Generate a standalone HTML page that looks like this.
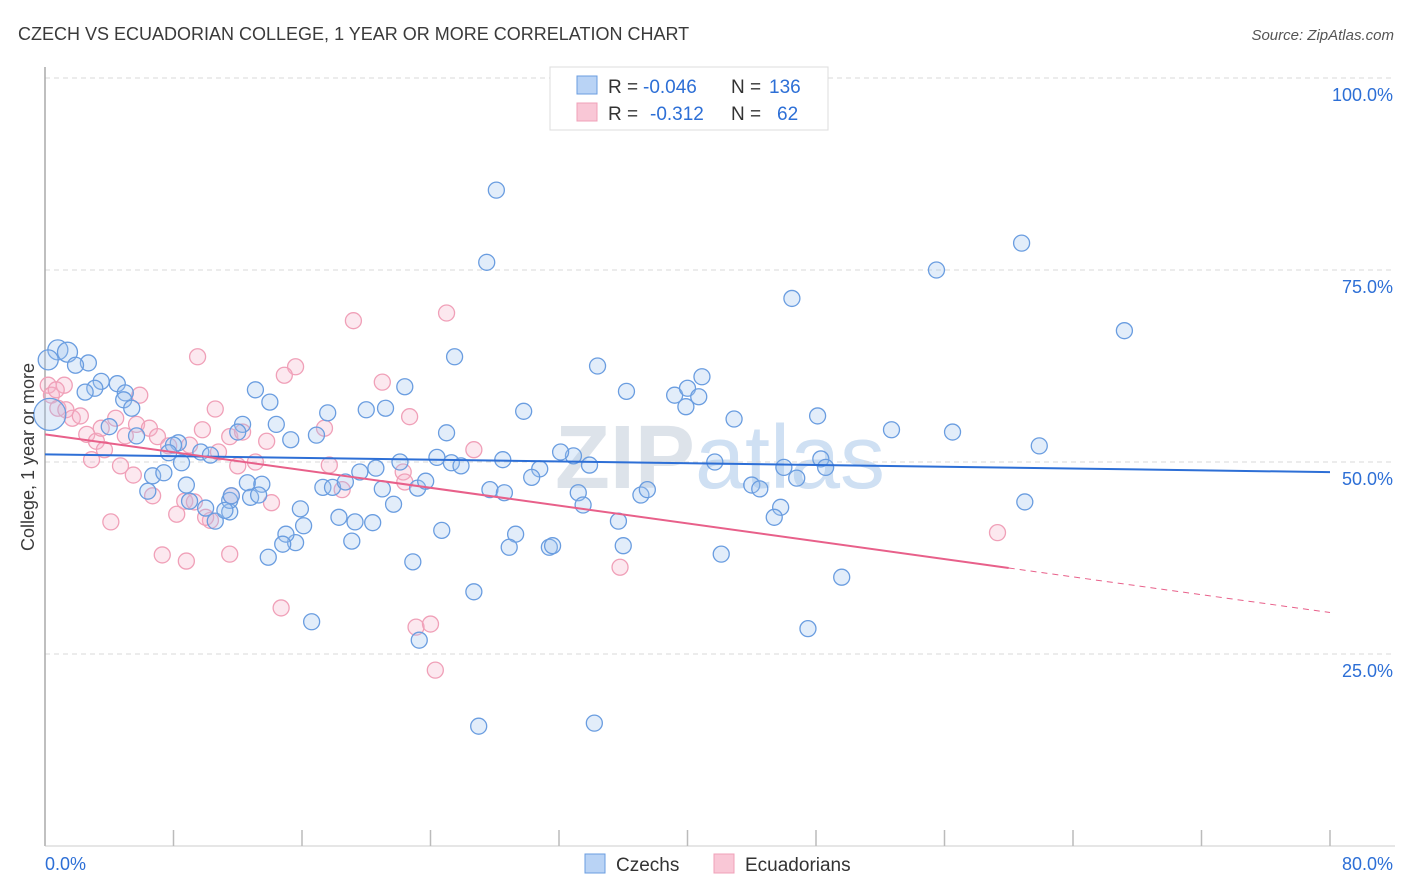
<!DOCTYPE html>
<html><head><meta charset="utf-8">
<style>
body{margin:0;background:#fff;font-family:"Liberation Sans",sans-serif;}
svg{display:block}
</style></head>
<body>
<svg id="chart" width="1406" height="892">
<text x="18" y="40" font-size="18" fill="#3a3a3a">CZECH VS ECUADORIAN COLLEGE, 1 YEAR OR MORE CORRELATION CHART</text>
<text x="1394" y="40" font-size="15" fill="#555" font-style="italic" text-anchor="end">Source: ZipAtlas.com</text>
<text x="720" y="488" font-size="90" fill="#dde3ea" text-anchor="middle" font-weight="bold">ZIP<tspan fill="#cfe0f3" font-weight="normal">atlas</tspan></text>
<g id="grid"></g>
<g id="axes"></g>
<g id="pts"></g>
<g id="lines"></g>
<text transform="translate(34,457) rotate(-90)" font-size="18" fill="#3a3a3a" text-anchor="middle">College, 1 year or more</text>
<g>
<rect x="550" y="67" width="278" height="63" fill="#fff" stroke="#ddd"/>
<rect x="577" y="76" width="20" height="18" fill="#b9d3f5" stroke="#6a9de0"/>
<rect x="577" y="103" width="20" height="18" fill="#f9c7d6" stroke="#f0a0b8"/>
<text x="608" y="93" font-size="19" fill="#333">R =</text>
<text x="643" y="93" font-size="19" fill="#2d6fd6">-0.046</text>
<text x="731" y="93" font-size="19" fill="#333">N =</text>
<text x="769" y="93" font-size="19" fill="#2d6fd6">136</text>
<text x="608" y="120" font-size="19" fill="#333">R =</text>
<text x="650" y="120" font-size="19" fill="#2d6fd6">-0.312</text>
<text x="731" y="120" font-size="19" fill="#333">N =</text>
<text x="777" y="120" font-size="19" fill="#2d6fd6">62</text>
</g>
<g>
<rect x="585" y="854" width="20" height="19" fill="#b9d3f5" stroke="#6a9de0"/>
<text x="616" y="871" font-size="19" fill="#333">Czechs</text>
<rect x="714" y="854" width="20" height="19" fill="#f9c7d6" stroke="#f0a0b8"/>
<text x="745" y="871" font-size="19" fill="#333">Ecuadorians</text>
</g>
</svg>
<script>
const blueX=[28.1,27.5,60.8,55.5,46.5,67.2,25.5,34.4,0.8,1.4,2.7,1.9,3.5,4.5,3.1,2.5,5.0,4.9,5.4,13.1,14.0,22.4,36.2,39.2,40.0,40.9,40.7,39.9,29.8,20.0,21.2,17.6,42.9,48.1,52.7,56.5,61.9,8.3,8.0,7.7,9.7,10.3,12.3,12.0,14.4,15.3,16.9,25.0,24.4,25.3,25.9,28.5,30.8,32.9,32.1,33.9,41.7,46.0,48.3,48.6,46.8,22.1,20.6,19.6,4.0,5.7,6.7,7.4,8.5,6.4,8.8,9.0,10.0,10.6,11.5,11.5,12.6,13.5,12.8,15.9,16.1,15.6,15.0,13.9,14.8,17.3,17.9,18.7,18.3,19.3,20.4,19.1,21.0,21.7,23.2,23.7,22.9,24.7,26.7,27.7,28.6,30.3,29.3,28.9,31.4,31.6,33.2,33.5,35.7,36.0,37.1,37.5,44.0,44.5,45.8,45.4,42.1,49.6,47.5,61.0,16.6,23.3,27.0,34.2,0.2,0.3,11.2,11.6,13.3];
const blueY=[85.4,76.0,78.5,75.0,71.3,67.1,63.7,62.5,64.6,64.3,62.9,62.6,60.5,60.2,59.6,59.1,59.0,58.1,57.0,59.4,57.8,59.8,59.2,58.7,59.6,61.1,58.5,57.2,56.6,56.8,57.0,56.4,55.6,56.0,54.2,53.9,52.1,52.5,52.2,51.2,51.3,50.9,54.9,53.9,54.9,52.9,53.5,53.8,50.6,49.9,49.5,50.3,49.1,50.8,51.3,49.6,50.0,49.3,50.4,49.3,47.9,50.0,49.2,48.7,54.6,53.4,48.2,48.6,49.9,46.2,47.0,44.9,44.0,42.3,43.5,45.0,47.3,47.1,45.4,43.9,41.7,39.5,40.6,37.6,39.3,46.7,46.7,47.4,42.8,42.2,42.1,39.7,46.5,44.5,46.6,47.5,37.0,41.1,33.1,46.4,46.0,48.0,40.6,38.9,38.9,39.1,46.0,44.4,42.3,39.1,45.7,46.4,47.0,46.5,44.1,42.8,38.0,35.0,28.3,44.8,29.2,26.8,15.6,16.0,63.3,56.2,43.7,45.6,45.7];
const pinkX=[25.0,19.2,9.5,15.6,14.9,21.0,22.7,0.2,0.4,0.8,1.3,1.7,2.2,2.6,3.2,3.5,4.4,5.0,5.7,5.9,6.5,7.0,7.7,3.7,2.9,4.7,5.5,6.7,9.0,9.8,10.6,11.5,12.3,12.0,13.1,13.8,14.1,8.7,8.2,9.3,10.3,10.8,11.6,4.1,7.3,8.8,11.5,14.7,17.7,18.5,17.4,22.3,22.4,26.7,23.1,24.0,24.3,35.8,59.3,1.2,0.7,10.0];
const pinkY=[69.4,68.4,63.7,62.4,61.3,60.4,55.9,60.0,58.7,57.0,56.8,55.7,56.0,53.6,52.7,54.4,55.7,53.4,54.9,58.7,54.4,53.3,52.1,51.6,50.3,49.5,48.3,45.6,52.2,54.2,56.9,53.3,53.9,49.5,50.0,52.7,44.7,44.9,43.2,44.8,42.4,51.3,45.6,42.2,37.9,37.1,38.0,31.0,49.6,46.4,54.4,48.7,47.4,51.6,28.5,28.9,22.9,36.3,40.8,60.0,59.4,42.8];
const blueBig=[8,9,124];
const blueHuge=[125];
const trendBlue=[51.0,-0.029];
const trendPink=[53.6,-0.29];
const pinkSolidEnd=60;
const yTicks=[25,50,75,100];
const xTickCount=10;

const X0=45,X1=1330,Y0=846,Y1=78;
const sx=v=>X0+(v/80)*(X1-X0);
const sy=v=>Y0-(v/100)*(Y0-Y1);
const NS="http://www.w3.org/2000/svg";
function mk(t,a,p){const e=document.createElementNS(NS,t);for(const k in a)e.setAttribute(k,a[k]);p.appendChild(e);return e;}
const grid=document.getElementById('grid'),axes=document.getElementById('axes'),pts=document.getElementById('pts'),lines=document.getElementById('lines');
yTicks.forEach(v=>{
 const l=mk('line',{x1:X0,x2:1395,y1:sy(v),y2:sy(v),stroke:'#d8d8d8','stroke-dasharray':'5,4'},grid);
 
 
 const t=mk('text',{x:1393,y:sy(v)+23,'font-size':18,fill:'#2d6fd6','text-anchor':'end'},axes);
 t.textContent=v.toFixed(1)+'%';
 
 
});
mk('line',{x1:X0,x2:X0,y1:67,y2:Y0,stroke:'#aaa','stroke-width':1.5},axes);
mk('line',{x1:X0,x2:1395,y1:Y0,y2:Y0,stroke:'#ccc'},axes);
for(let i=0;i<=xTickCount;i++){
 const x=sx(i*8);
 const tk=mk('line',{x1:x,x2:x,y1:Y0,y2:830,stroke:'#bbb','stroke-width':1.5},axes);
 
 
}
const xl=mk('text',{x:45,y:870,'font-size':18,fill:'#2d6fd6'},axes);xl.textContent='0.0%';


const xr=mk('text',{x:1393,y:870,'font-size':18,fill:'#2d6fd6','text-anchor':'end'},axes);xr.textContent='80.0%';



pinkX.forEach((x,i)=>{
 const c=mk('circle',{cx:sx(x),cy:sy(pinkY[i]),r:8,fill:'rgba(246,180,202,0.3)',stroke:'#f0a0b8','stroke-width':1.3},pts);
 
 
});
blueX.forEach((x,i)=>{
 const r=blueHuge.includes(i)?16:(blueBig.includes(i)?10:8);
 const c=mk('circle',{cx:sx(x),cy:sy(blueY[i]),r:r,fill:'rgba(160,196,240,0.3)',stroke:'#6a9de0','stroke-width':1.3},pts);
 
 
});
const bl=mk('line',{x1:sx(0),y1:sy(trendBlue[0]),x2:sx(80),y2:sy(trendBlue[0]+trendBlue[1]*80),stroke:'#2d6fd6','stroke-width':2},lines);


const pl=mk('line',{x1:sx(0),y1:sy(trendPink[0]),x2:sx(pinkSolidEnd),y2:sy(trendPink[0]+trendPink[1]*pinkSolidEnd),stroke:'#e8608a','stroke-width':2},lines);


const pd=mk('line',{x1:sx(pinkSolidEnd),y1:sy(trendPink[0]+trendPink[1]*pinkSolidEnd),x2:sx(80),y2:sy(trendPink[0]+trendPink[1]*80),stroke:'#e8608a','stroke-width':1,'stroke-dasharray':'6,5'},lines);


</script>
</body></html>
